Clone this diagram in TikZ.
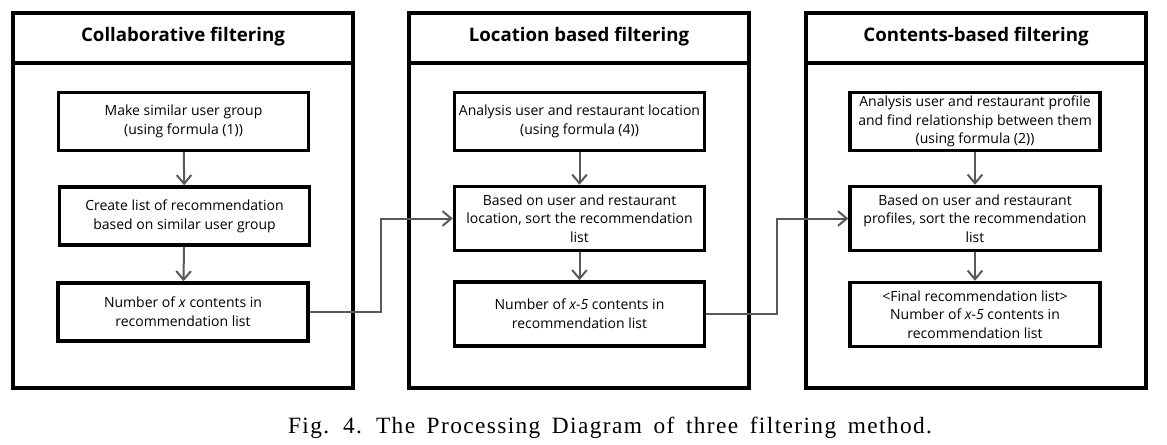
\documentclass[tikz,border=0pt]{standalone}
\usepackage{fontspec}
\setmainfont{Open Sans}
\newfontfamily\capfont[LetterSpace=6,WordSpace=1.6]{Liberation Serif}
\usetikzlibrary{arrows.meta}

\begin{document}
\begin{tikzpicture}[x=0.75pt,y=-0.75pt,
  panel/.style={line width=2.6pt},
  title/.style={font=\fontsize{14}{16}\selectfont\bfseries},
  box/.style={draw,line width=2.6pt,minimum width=187.5pt,minimum height=43.5pt,inner sep=2pt,align=center,font=\fontsize{10.5}{14}\selectfont},
  tall/.style={minimum height=48pt},
  flow/.style={draw=black!65,line width=1.5pt,-{Straight Barb[length=6.5pt,width=11pt]}}]
\useasboundingbox (0,0) rectangle (1167,444);

\draw[panel] (13,13) rectangle (353,388);
\draw[panel] (13,63) -- (353,63);
\node[title] (t1) at (183,37) {Collaborative filtering};
\node[box] (b11) at (183.5,121.5) {Make similar user group\\(using formula (1))};
\node[box] (b12) at (184.5,216) {Create list of recommendation\\based on similar user group};
\node[box] (b13) at (183,312) {Number of \textit{x} contents in\\recommendation list};

\draw[panel] (409,13) rectangle (749,388);
\draw[panel] (409,63) -- (749,63);
\node[title] (t2) at (579,37) {Location based filtering};
\node[box] (b21) at (579.5,121.5) {Analysis user and restaurant location\\(using formula (4))};
\node[box,tall] (b22) at (579.5,218.5) {Based on user and restaurant\\location, sort the recommendation\\list};
\node[box,tall] (b23) at (579.5,314) {Number of \textit{x-5} contents in\\recommendation list};

\draw[panel] (806,13) rectangle (1146,388);
\draw[panel] (806,63) -- (1146,63);
\node[title] (t3) at (976,37) {Contents-based filtering};
\node[box] (b31) at (975,121.5) {Analysis user and restaurant profile\\and find relationship between them\\(using formula (2))};
\node[box,tall] (b32) at (975,218.5) {Based on user and restaurant\\profiles, sort the recommendation\\list};
\node[box,tall] (b33) at (975,314.5) {<Final recommendation list>\\Number of \textit{x-5} contents in\\recommendation list};

\draw[flow] (b11) -- (b12);
\draw[flow] (b12) -- (b13);
\draw[flow] (b21) -- (b22);
\draw[flow] (b22) -- (b23);
\draw[flow] (b31) -- (b32);
\draw[flow] (b32) -- (b33);
\draw[flow] (b13.east) -- ++(71,0) |- (b22.west);
\draw[flow] (b23.east) -- ++(71,0) |- (b32.west);

\node[font=\capfont\fontsize{17.5}{19}\selectfont] (cap) at (610,428) {Fig. 4. The Processing Diagram of three filtering method.};
\end{tikzpicture}
\end{document}
